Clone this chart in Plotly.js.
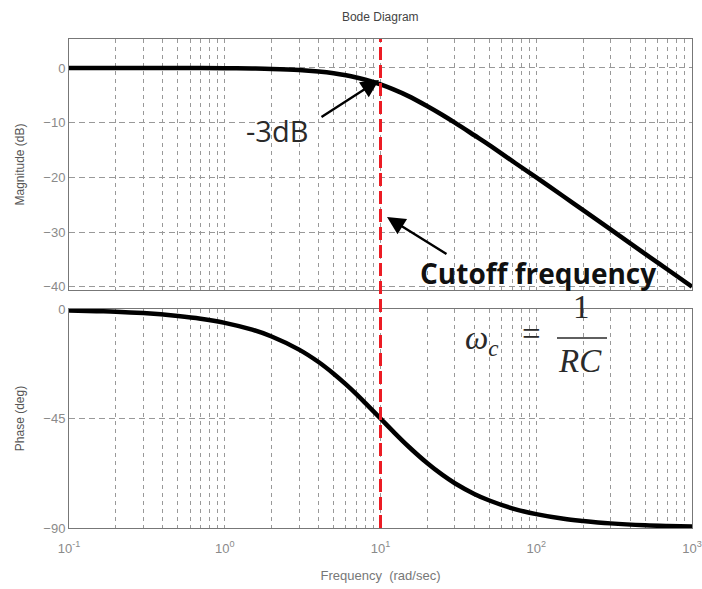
<!DOCTYPE html>
<html>
<head>
<meta charset="utf-8">
<script src="https://cdn.plot.ly/plotly-3.0.1.min.js"></script>
<style>html,body{margin:0;padding:0;background:#fff;}#chart{width:702px;height:589px;}</style>
</head>
<body>
<div id="chart"></div>
<script>
// ---- data ----
const freq = [0.1, 0.15, 0.2, 0.3, 0.5, 0.7, 1, 1.5, 2, 3, 4, 5, 6, 7, 8, 10, 12, 15, 20, 25, 30, 40, 50, 70, 100, 150, 200, 300, 500, 700, 1000];
const magnitudeDb = [0.0, 0.0, 0.0, 0.0, -0.01, -0.02, -0.04, -0.1, -0.17, -0.37, -0.65, -0.97, -1.34, -1.74, -2.15, -3.0, -3.87, -5.1, -7.0, -8.6, -10.0, -12.3, -14.1, -17.0, -20.0, -23.5, -26.0, -29.5, -34.0, -36.9, -40.0];
const phaseDeg = [-0.6, -0.9, -1.1, -1.7, -2.9, -4.0, -5.7, -8.5, -11.3, -16.7, -21.8, -26.6, -31.0, -35.0, -38.7, -45.0, -50.2, -56.3, -63.4, -68.2, -71.6, -76.0, -78.7, -81.9, -84.3, -86.2, -87.1, -88.1, -88.9, -89.2, -89.4];
const cutoffFreq = 10;

const xTickVals = [0.1,0.2,0.3,0.4,0.5,0.6,0.7,0.8,0.9,
                   1,2,3,4,5,6,7,8,9,
                   10,20,30,40,50,60,70,80,90,
                   100,200,300,400,500,600,700,800,900,1000];
const xTickText = ['10<sup>-1</sup>','','','','','','','','',
                   '10<sup>0</sup>','','','','','','','','',
                   '10<sup>1</sup>','','','','','','','','',
                   '10<sup>2</sup>','','','','','','','','',
                   '10<sup>3</sup>'];
const magTickVals = [-40, -30, -20, -10, 0];
const phaseTickVals = [-90, -45, 0];

// ---- layout helpers ----
const gridColor = '#999';
const tickFont = {family: 'Liberation Sans, Arial, sans-serif', size: 13, color: '#8a8a8a'};

const traces = [
  {x: freq, y: magnitudeDb, xaxis: 'x', yaxis: 'y', mode: 'lines',
   line: {color: '#000', width: 4.5, shape: 'spline'}, hoverinfo: 'skip'},
  {x: freq, y: phaseDeg, xaxis: 'x2', yaxis: 'y2', mode: 'lines',
   line: {color: '#000', width: 4.5, shape: 'spline'}, hoverinfo: 'skip'}
];

function xAxis(showLabels, anchor) {
  return {
    type: 'log', range: [-1, 3], anchor: anchor,
    tickmode: 'array', tickvals: xTickVals, ticktext: xTickText,
    showticklabels: showLabels, tickfont: tickFont, ticks: '', ticklabelstandoff: 8,
    showgrid: true, gridcolor: gridColor, griddash: '4px,4px', gridwidth: 1,
    showline: true, mirror: true, linecolor: '#777', linewidth: 1,
    zeroline: false
  };
}

const pw = 623, ph = 489, px0 = 69, py1 = 528;
const P = (x, y) => ({x: (x - px0) / pw, y: (py1 - y) / ph});

const annFont = {family: 'Open Sans, Noto Sans, sans-serif', color: '#2a2a2a'};
const mathFont = {family: 'Liberation Serif, DejaVu Serif, serif', size: 33, color: '#2a2a2a'};

const a3 = P(277, 131), h3 = P(379, 80), hc = P(387, 217), tc = P(538, 273);
const w = P(482, 340), eq = P(531, 334), one = P(581, 307), rc = P(580, 361);
const barL = P(557, 338), barR = P(607, 338);

function txt(pos, text, font) {
  return {xref: 'paper', yref: 'paper', x: pos.x, y: pos.y, xanchor: 'center', yanchor: 'middle',
          text: text, showarrow: false, font: font};
}

const layout = {
  width: 702, height: 589,
  margin: {l: px0, r: 702 - 692, t: 39, b: 589 - py1},
  paper_bgcolor: '#fff', plot_bgcolor: '#fff',
  showlegend: false,
  title: {text: 'Bode Diagram', x: 0.5417, xanchor: 'center', y: 0.972, yanchor: 'middle',
          font: {family: 'Liberation Sans, Arial, sans-serif', size: 12, color: '#444'}},
  xaxis: Object.assign(xAxis(false, 'y'), {matches: 'x2'}),
  xaxis2: Object.assign(xAxis(true, 'y2'), {
    title: {text: 'Frequency  (rad/sec)', standoff: 16,
            font: {family: 'Liberation Sans, Arial, sans-serif', size: 13, color: '#777'}}
  }),
  yaxis: {
    domain: [0.4867, 1], range: [-40.6, 5.3], anchor: 'x',
    tickmode: 'array', tickvals: magTickVals, tickfont: tickFont, ticks: '',
    showgrid: true, gridcolor: gridColor, griddash: '6px,4px', gridwidth: 1,
    showline: true, mirror: true, linecolor: '#777', zeroline: false,
    title: {text: 'Magnitude (dB)', standoff: 16,
            font: {family: 'Liberation Sans, Arial, sans-serif', size: 12, color: '#555'}}
  },
  yaxis2: {
    domain: [0, 0.4479], range: [-90, 0], anchor: 'x2',
    tickmode: 'array', tickvals: phaseTickVals, tickfont: tickFont, ticks: '',
    showgrid: true, gridcolor: gridColor, griddash: '6px,4px', gridwidth: 1,
    showline: true, mirror: true, linecolor: '#777', zeroline: false,
    title: {text: 'Phase (deg)', standoff: 16,
            font: {family: 'Liberation Sans, Arial, sans-serif', size: 12, color: '#555'}}
  },
  shapes: [
    {type: 'line', xref: 'x', yref: 'paper', x0: cutoffFreq, x1: cutoffFreq, y0: 0, y1: 1,
     line: {color: '#ec1c24', width: 3, dash: '13px,5px'}},
    {type: 'line', xref: 'paper', yref: 'paper', x0: barL.x, x1: barR.x, y0: barL.y, y1: barR.y,
     line: {color: '#2a2a2a', width: 1.5}}
  ],
  annotations: [
    txt(a3, '-3dB', Object.assign({size: 29}, annFont)),
    {xref: 'paper', yref: 'paper', x: h3.x, y: h3.y, text: '', showarrow: true,
     ax: 320 - 379, ay: 118 - 80, axref: 'pixel', ayref: 'pixel',
     arrowhead: 2, arrowsize: 1.5, arrowwidth: 2.4, arrowcolor: '#000', standoff: 0},
    {xref: 'paper', yref: 'paper', x: hc.x, y: hc.y, text: '', showarrow: true,
     ax: 448 - 387, ay: 255 - 217, axref: 'pixel', ayref: 'pixel',
     arrowhead: 2, arrowsize: 1.5, arrowwidth: 2.4, arrowcolor: '#000', standoff: 0},
    txt(tc, '<b>Cutoff frequency</b>', Object.assign({size: 28}, annFont, {color: '#111'})),
    txt(w, '<i>ω</i><sub><i>c</i></sub>', mathFont),
    txt(eq, '=', mathFont),
    txt(one, '1', mathFont),
    txt(rc, '<i>RC</i>', mathFont)
  ]
};

Plotly.newPlot('chart', traces, layout, {staticPlot: true, displayModeBar: false});
</script>
</body>
</html>
